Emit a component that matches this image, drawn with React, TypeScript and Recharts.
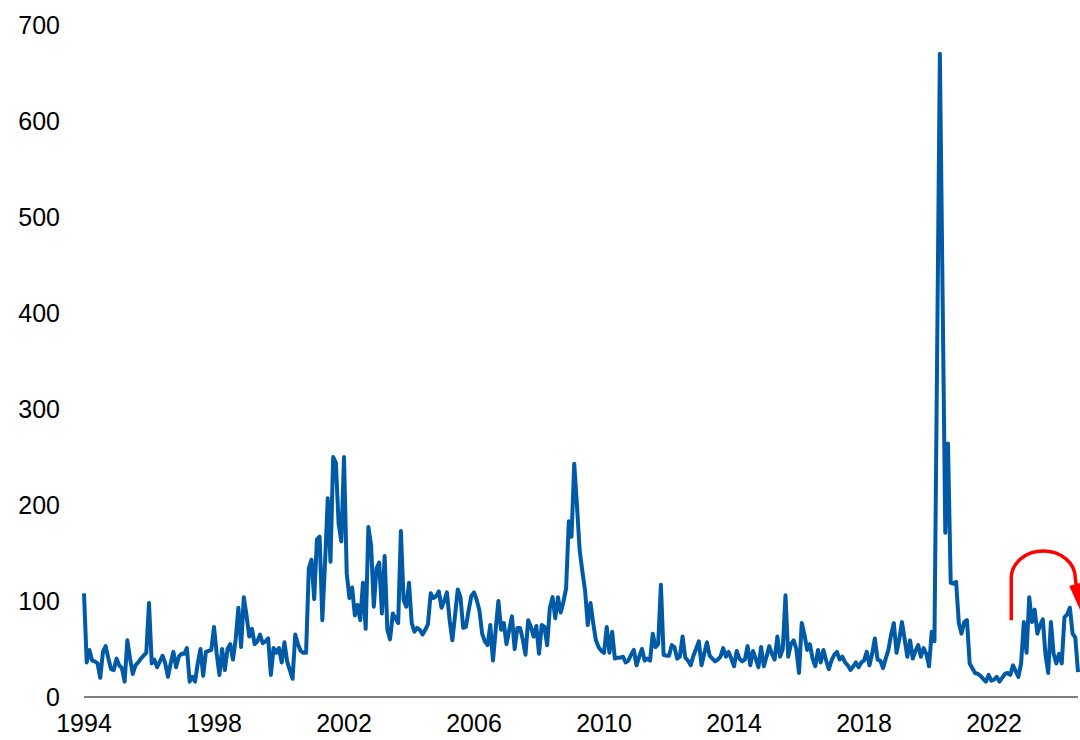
import { LineChart, Line, XAxis, YAxis } from 'recharts';

const startYear = 1994;

// monthly values, Jan 1994 onward
const values1990s = [
    108, 36, 49, 38, 37, 35, 20, 47, 53, 40, 29, 28,
    40, 33, 30, 16, 59, 40, 24, 33, 36, 40, 43, 46,
    98, 35, 39, 31, 37, 43, 35, 21, 35, 47, 31, 42,
    45, 45, 51, 16, 21, 16, 35, 50, 22, 47, 48, 49,
    73, 45, 23, 50, 28, 50, 55, 39, 60, 93, 52, 104,
    85, 63, 71, 55, 58, 65, 56, 58, 61, 23, 51, 46,
];

const values2000s = [
    51, 36, 57, 37, 28, 19, 65, 55, 48, 46, 46, 134,
    143, 102, 164, 167, 80, 140, 207, 141, 250, 244, 181, 162,
    250, 129, 103, 114, 85, 96, 80, 119, 71, 177, 158, 94,
    134, 140, 87, 147, 70, 60, 87, 82, 77, 173, 101, 94,
    119, 77, 68, 72, 70, 65, 70, 76, 108, 103, 105, 110,
    93, 100, 109, 80, 59, 85, 112, 104, 72, 73, 90, 105,
    109, 101, 90, 66, 58, 54, 75, 38, 70, 100, 70, 77,
    55, 70, 84, 50, 72, 72, 60, 44, 80, 73, 63, 74,
    45, 75, 73, 54, 93, 104, 82, 104, 88, 99, 113, 183,
    167, 243, 200, 153, 131, 111, 75, 98, 77, 59, 52, 48,
];

const values2010s = [
    46, 73, 46, 68, 40, 41, 41, 42, 36, 38, 44, 49,
    33, 42, 50, 38, 40, 38, 66, 52, 55, 117, 44, 43,
    43, 54, 52, 40, 42, 63, 41, 38, 33, 43, 50, 58,
    33, 45, 57, 43, 40, 37, 39, 42, 51, 42, 47, 40,
    32, 48, 40, 37, 39, 53, 33, 48, 40, 31, 52, 32,
    42, 53, 45, 39, 63, 42, 50, 106, 42, 55, 59, 50,
    25, 77, 65, 49, 55, 40, 32, 49, 36, 49, 38, 29,
    38, 44, 47, 39, 42, 36, 33, 28, 32, 36, 31, 36,
    38, 47, 33, 45, 61, 39, 38, 30, 40, 49, 65, 77,
    46, 60, 78, 60, 42, 59, 40, 48, 54, 42, 51, 45,
];

const values2020s = [
    32, 68, 58, 360, 670, 420, 171, 264, 119, 118, 120, 77,
    66, 78, 80, 35, 30, 25, 24, 22, 19, 16, 23, 17,
    18, 21, 16, 20, 24, 25, 23, 33, 27, 21, 35, 78,
    46, 104, 78, 91, 66, 75, 81, 44, 25, 78, 45, 35,
    45, 35, 83, 86, 93, 66, 62, 26,
];

const yearTicks = [1994, 1998, 2002, 2006, 2010, 2014, 2018, 2022];
const valueTicks = [0, 100, 200, 300, 400, 500, 600, 700];

const allValues = [...values1990s, ...values2000s, ...values2010s, ...values2020s];
const data = allValues.map((v, i) => ({ t: startYear + i / 12, v }));
const tMax = startYear + (allValues.length - 1) / 12;

const W = 1080;
const H = 740;
const plot = { left: 84, right: 1078, top: 25, bottom: 697 };
const font = '"Liberation Sans", Arial, sans-serif';

const xOf = (t: number) => plot.left + ((t - startYear) / (tMax - startYear)) * (plot.right - plot.left);
const yOf = (v: number) => plot.bottom - (v / 700) * (plot.bottom - plot.top);

function Arrow() {
    const x0 = xOf(2022.53);
    const x1 = xOf(2024.5);
    const yBase = yOf(80);
    const yArc = yOf(124);
    const rx = (x1 - x0) / 2;
    const ry = yArc - yOf(152);
    const tipY = yOf(88);
    return (
        <svg width={W} height={H} style={{ position: 'absolute', left: 0, top: 0, pointerEvents: 'none' }}>
            <path
                d={`M${x0},${yBase} L${x0},${yArc} A${rx},${ry} 0 0 1 ${x1},${yArc} L${x1 + 1},${yArc + 8}`}
                fill="none"
                stroke="#ff0000"
                strokeWidth={3.5}
            />
            <polygon
                points={`${x1 - 6},${yArc + 8} ${x1 + 9},${yArc + 4} ${x1 + 6},${tipY}`}
                fill="#ff0000"
            />
        </svg>
    );
}

export default function App() {
    return (
        <div style={{ position: 'absolute', left: 0, top: 0, width: W, height: H, background: '#fff' }}>
            <LineChart width={W} height={H} data={data} margin={{ top: 25, right: 2, bottom: 0, left: 0 }}>
                <XAxis
                    dataKey="t"
                    type="number"
                    domain={[startYear, tMax]}
                    ticks={yearTicks}
                    height={43}
                    axisLine={{ stroke: '#000', strokeWidth: 1.2 }}
                    tickLine={false}
                    tickSize={0}
                    tickMargin={17}
                    tick={{ fill: '#000', fontSize: 25, fontFamily: font }}
                    interval={0}
                />
                <YAxis
                    type="number"
                    domain={[0, 700]}
                    ticks={valueTicks}
                    width={84}
                    axisLine={false}
                    tickLine={false}
                    tickSize={0}
                    tickMargin={24}
                    tick={{ fill: '#000', fontSize: 25, fontFamily: font }}
                    interval={0}
                />
                <Line
                    type="linear"
                    dataKey="v"
                    stroke="#005aa6"
                    strokeWidth={4}
                    strokeLinejoin="round"
                    dot={false}
                    activeDot={false}
                    isAnimationActive={false}
                />
            </LineChart>
            <Arrow />
        </div>
    );
}
